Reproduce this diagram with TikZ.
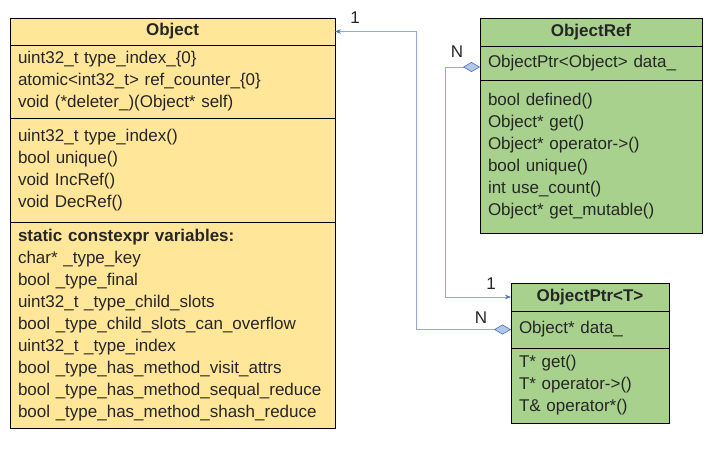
\documentclass[tikz,border=0pt]{standalone}
\usepackage{fontspec}
\setmainfont{Liberation Sans}
\usetikzlibrary{positioning, arrows.meta}
\definecolor{objfill}{RGB}{255,230,153}
\definecolor{reffill}{RGB}{169,209,142}
\definecolor{linkblue}{RGB}{143,170,220}
\definecolor{diafill}{RGB}{180,199,231}
\definecolor{diadraw}{RGB}{68,114,196}
\definecolor{txtgray}{RGB}{38,38,38}

\begin{document}
\begin{tikzpicture}[
        x=1pt, y=-1pt,
        part/.style 2 args={
            draw=black,
            line width=1pt,
            anchor=north west,
            outer sep=0pt,
            minimum width=#1,
            text width=#1-16pt,
            minimum height=#2,
            inner xsep=8pt,
            inner ysep=0pt,
            align=left,
            text=txtgray,
            font=\fontsize{17}{22}\selectfont
        },
        title/.style 2 args={
            part={#1}{#2},
            align=center,
            font=\fontsize{17}{22}\selectfont\bfseries
        },
        mult/.style={text=txtgray, font=\fontsize{17}{20}\selectfont},
        assoc/.style={
            draw=linkblue,
            line width=0.8pt,
            {Diamond[length=17pt, width=10pt, color=diadraw, fill=diafill, line width=0.6pt]}-{Stealth[length=6pt, width=4.5pt, color=diadraw]}
        }
    ]
        \useasboundingbox (0,0) rectangle (720,448);

        % Object
        \node[title={325}{27}, fill=objfill] (objTitle) at (10,18) {Object};
        \node[part={325}{73}, fill=objfill, below=0pt of objTitle] (objFields) {
            uint32\_t type\_index\_\{0\}\\
            atomic<int32\_t> ref\_counter\_\{0\}\\
            void (*deleter\_)(Object* self)};
        \node[part={325}{104}, fill=objfill, below=0pt of objFields] (objMethods) {
            uint32\_t type\_index()\\
            bool unique()\\
            void IncRef()\\
            void DecRef()};
        \node[part={325}{206}, fill=objfill, below=0pt of objMethods] (objStatic) {
            \textbf{static constexpr variables:}\\
            char* \_type\_key\\
            bool \_type\_final\\
            uint32\_t \_type\_child\_slots\\
            bool \_type\_child\_slots\_can\_overflow\\
            uint32\_t \_type\_index\\
            bool \_type\_has\_method\_visit\_attrs\\
            bool \_type\_has\_method\_sequal\_reduce\\
            bool \_type\_has\_method\_shash\_reduce};

        % ObjectRef
        \node[title={222}{28}, fill=reffill] (refTitle) at (480,18) {ObjectRef};
        \node[part={222}{34}, fill=reffill, below=0pt of refTitle] (refField) {ObjectPtr<Object> data\_};
        \node[part={222}{153}, fill=reffill, below=0pt of refField] (refMethods) {
            bool defined()\\
            Object* get()\\
            Object* operator->()\\
            bool unique()\\
            int use\_count()\\
            Object* get\_mutable()};

        % ObjectPtr<T>
        \node[title={158}{28}, fill=reffill] (ptrTitle) at (511,283) {ObjectPtr<T>};
        \node[part={158}{37}, fill=reffill, below=0pt of ptrTitle] (ptrField) {Object* data\_};
        \node[part={158}{75}, fill=reffill, below=0pt of ptrField] (ptrMethods) {
            T* get()\\
            T* operator->()\\
            T\& operator*()};

        % links
        \draw[assoc] (ptrField.west) -- ++(-95,0) |- (objTitle.east);
        \draw[assoc] ([yshift=-4pt]refField.west) -- ++(-35,0) |- (ptrTitle.west);

        % multiplicities
        \node[mult] (mObj) at (355,18) {1};
        \node[mult] (mRef) at (457,52) {N};
        \node[mult] (mPtrOne) at (491,284) {1};
        \node[mult] (mPtrN) at (481,318) {N};
    \end{tikzpicture}
\end{document}
